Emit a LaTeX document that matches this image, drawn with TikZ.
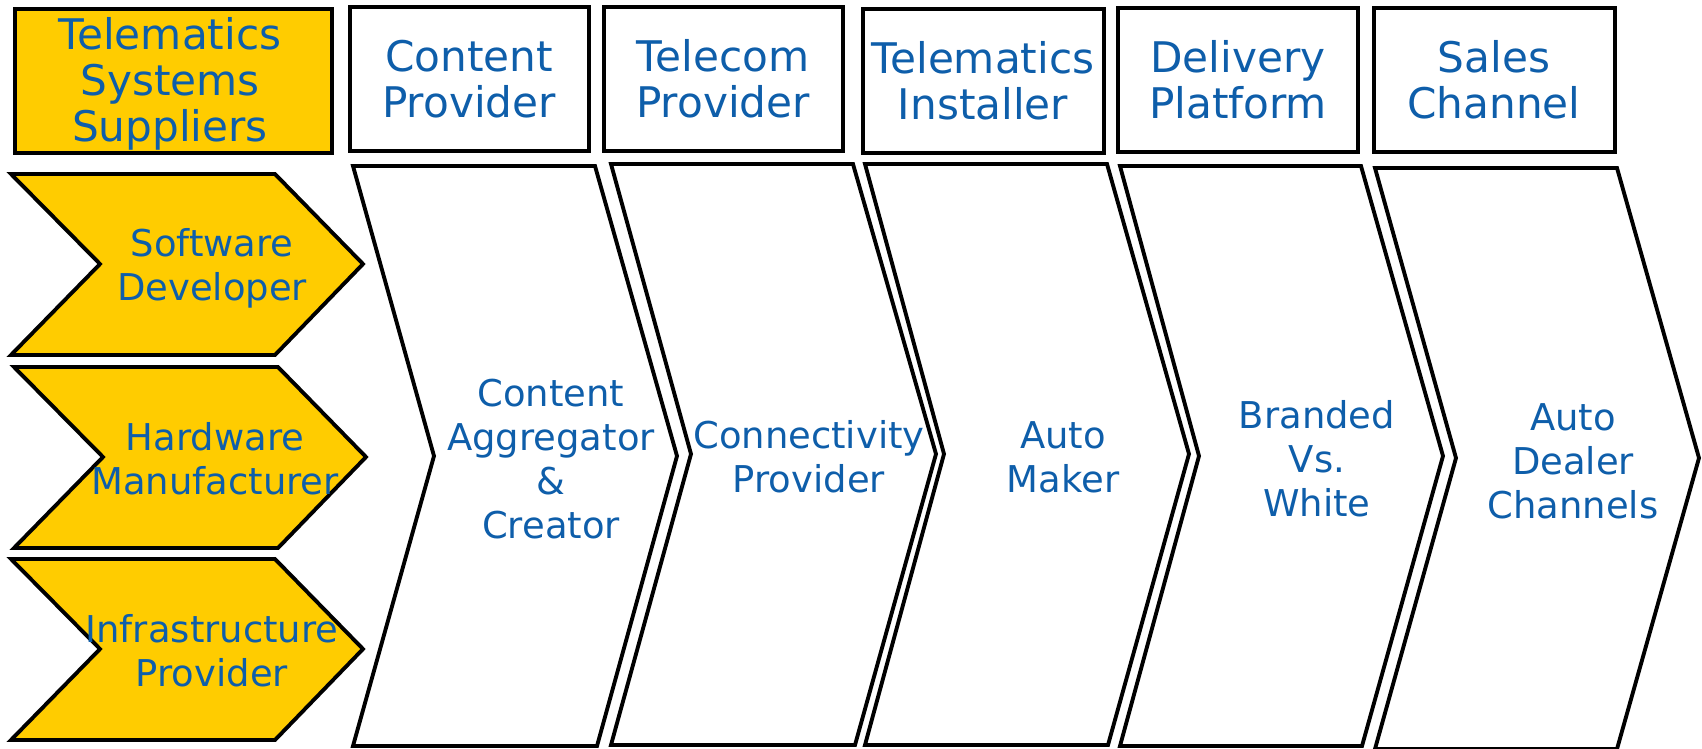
\documentclass[tikz,border=0pt]{standalone}
\usepackage{fontspec}
\setmainfont{DejaVu Sans}
\definecolor{gold}{RGB}{255,204,0}
\definecolor{txtblue}{RGB}{14,94,170}
\begin{document}
\begin{tikzpicture}[x=0.01cm,y=-0.01cm,
  outline/.style={draw=black,line width=1.1pt,line join=miter},
  yel/.style={outline,fill=gold},
  wht/.style={outline,fill=white},
  lbl/.style={text=txtblue,align=center,inner sep=0pt},
  headlbl/.style={lbl,font=\fontsize{12}{13}\selectfont},
  chevlbl/.style={lbl,font=\fontsize{10.5}{12.5}\selectfont}]
\useasboundingbox[fill=white] (0,0) rectangle (1702,748);

% column headers
\path[yel] (15,9) rectangle (332,153);
\path[wht] (350,7) rectangle (589,151);
\path[wht] (604,7) rectangle (843,151);
\path[wht] (863,9) rectangle (1104,153);
\path[wht] (1118,8) rectangle (1358,152);
\path[wht] (1374,8) rectangle (1615,152);

\node[headlbl] (tss) at (170,84) {Telematics\\Systems\\Suppliers};
\node[headlbl] (cp)  at (469,79) {Content\\Provider};
\node[headlbl] (tp)  at (723,79) {Telecom\\Provider};
\node[headlbl] (ti)  at (983,81) {Telematics\\Installer};
\node[headlbl] (dp)  at (1238,80) {Delivery\\Platform};
\node[headlbl] (sc)  at (1494,80) {Sales\\Channel};

% supplier chevrons
\path[yel] (11,174) -- (275,174) -- (363,264) -- (275,355) -- (11,355) -- (100,264) -- cycle;
\path[yel] (14,367) -- (278,367) -- (366,457) -- (278,548) -- (14,548) -- (103,457) -- cycle;
\path[yel] (11,559) -- (275,559) -- (363,649) -- (275,740) -- (11,740) -- (100,649) -- cycle;

\node[chevlbl] (sd) at (212,268) {Software\\Developer};
\node[chevlbl] (hm) at (215,459) {Hardware\\Manufacturer};
\node[chevlbl] (ip) at (212,651) {Infrastructure\\Provider};

% value chain chevrons
\path[wht] (353,166) -- (595,166) -- (677,456) -- (597,746) -- (353,746) -- (434,456) -- cycle;
\path[wht] (611,164) -- (853,164) -- (936,454) -- (855,745) -- (611,745) -- (691,454) -- cycle;
\path[wht] (865,164) -- (1107,164) -- (1189,454) -- (1108,745) -- (865,745) -- (944,454) -- cycle;
\path[wht] (1120,166) -- (1361,166) -- (1443,456) -- (1362,746) -- (1120,746) -- (1199,456) -- cycle;
\path[wht] (1375,168) -- (1617,168) -- (1699,458) -- (1617,749) -- (1375,749) -- (1456,458) -- cycle;

\node[chevlbl] (cac) at (551,459) {Content\\Aggregator\\\&\\Creator};
\node[chevlbl] (cop) at (809,457) {Connectivity\\Provider};
\node[chevlbl] (am)  at (1063,457) {Auto\\Maker};
\node[chevlbl] (bw)  at (1317,459) {Branded\\Vs.\\White};
\node[chevlbl] (adc) at (1573,461) {Auto\\Dealer\\Channels};
\end{tikzpicture}
\end{document}
